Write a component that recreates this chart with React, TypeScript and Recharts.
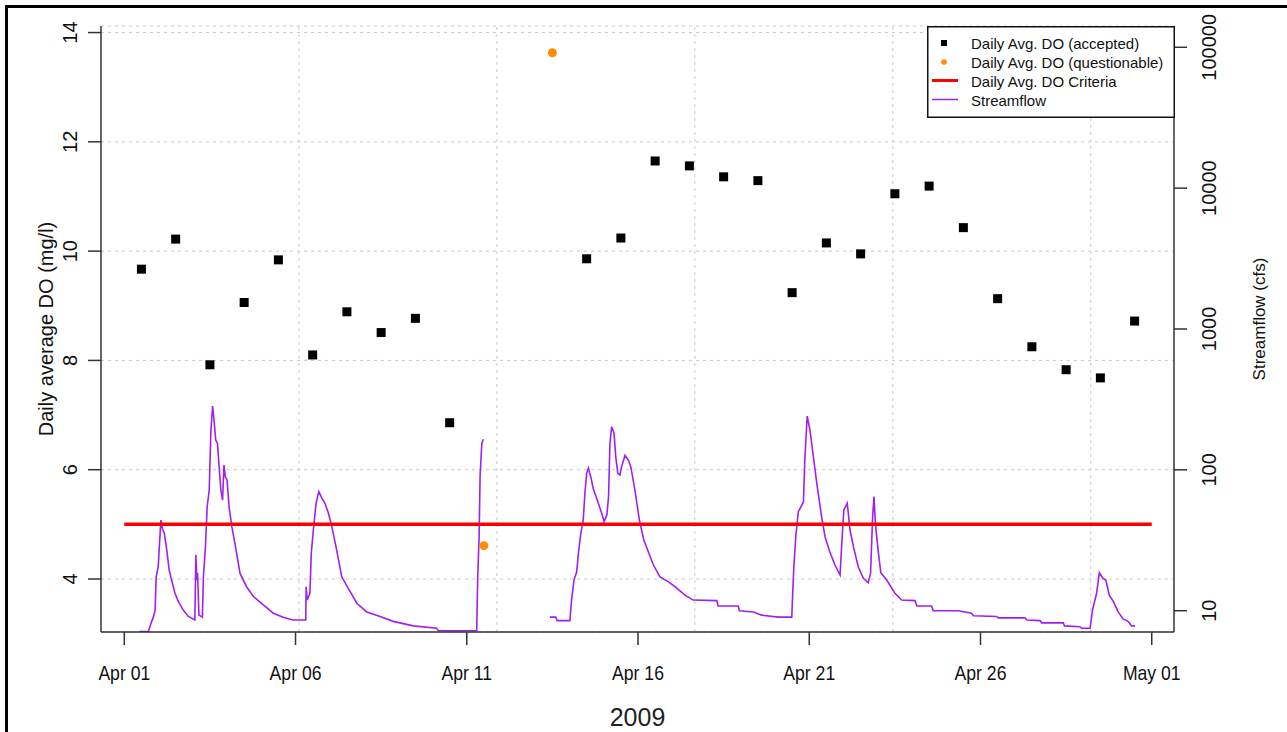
import React from 'react';
import { ComposedChart, Line, Scatter, XAxis, YAxis, CartesianGrid, Legend, ReferenceLine } from 'recharts';

const FONT = '"Liberation Sans", Arial, Helvetica, sans-serif';

// x values are days counted from Apr 01 2009, 00:00
const dateTicks = [0, 5, 10, 15, 20, 25, 30];
const dateLabels = ['Apr 01', 'Apr 06', 'Apr 11', 'Apr 16', 'Apr 21', 'Apr 26', 'May 01'];
const gridDays = [5.1, 10.88, 16.66, 22.44, 28.22];
const doTicks = [4, 6, 8, 10, 12, 14];
const flowTicks = [10, 100, 1000, 10000, 100000];

const acceptedDays = [
  0.5, 1.5, 2.5, 3.5, 4.5, 5.5, 6.5, 7.5, 8.5, 9.5,
  13.5, 14.5, 15.5, 16.5, 17.5, 18.5, 19.5, 20.5, 21.5, 22.5, 23.5, 24.5, 25.5, 26.5, 27.5, 28.5, 29.5,
];
const acceptedDO = [
  9.67, 10.22, 7.92, 9.06, 9.84, 8.1, 8.89, 8.51, 8.77, 6.86,
  9.86, 10.24, 11.65, 11.56, 11.36, 11.29, 9.24, 10.15, 9.95, 11.05, 11.19, 10.43, 9.13, 8.25, 7.83, 7.68, 8.72,
];
const questionableDays = [10.5, 12.5];
const questionableDO = [4.61, 13.63];
const criteriaDays = [0, 30];
const criteriaDO = [5, 5];

// streamflow (day, cfs), two stretches with a gap on Apr 11-13
const flowEarly: [number, number][] = [
  [0.44, 7.1], [0.7, 7.1], [0.75, 7.7], [0.8, 8.4], [0.85, 9.0], [0.9, 10.1], [0.93, 17.3], [0.99, 20.5],
  [1.04, 33.5], [1.07, 44.0], [1.11, 38.5], [1.17, 35.4], [1.24, 27.0], [1.31, 19.5], [1.38, 16.5], [1.48, 13.3],
  [1.58, 11.6], [1.72, 10.1], [1.87, 9.1], [2.06, 8.6], [2.09, 24.9], [2.12, 16.5], [2.14, 18.5], [2.18, 9.3],
  [2.28, 9.0], [2.31, 17.4], [2.37, 28.5], [2.42, 54.7], [2.48, 71.9], [2.53, 192], [2.58, 284], [2.62, 226],
  [2.67, 163], [2.72, 154], [2.77, 105], [2.82, 71.9], [2.87, 61], [2.91, 108], [2.95, 89.4], [3.0, 84.7],
  [3.06, 54.7], [3.14, 39.5], [3.23, 30.1], [3.38, 18.4], [3.57, 14.8], [3.77, 12.6], [4.06, 11.0], [4.35, 9.6],
  [4.64, 9.0], [4.92, 8.6], [5.3, 8.6], [5.31, 14.8], [5.34, 11.9], [5.42, 13.3], [5.46, 25.6], [5.52, 37.4],
  [5.6, 57.9], [5.68, 70.0], [5.76, 63.8], [5.86, 57.9], [5.96, 49.2], [6.06, 39.5], [6.2, 27.0], [6.35, 17.4],
  [6.54, 14.4], [6.79, 11.3], [7.08, 9.8], [7.47, 9.1], [7.85, 8.4], [8.44, 7.8], [9.12, 7.5], [9.17, 7.2],
  [9.66, 7.2], [10.29, 7.2], [10.32, 17.4], [10.36, 33.5], [10.39, 91.9], [10.44, 154], [10.48, 165],
];
const flowLate: [number, number][] = [
  [12.43, 9.0], [12.6, 9.0], [12.64, 8.5], [13.01, 8.5], [13.06, 11.9], [13.13, 16.5], [13.21, 18.9], [13.26, 25.6],
  [13.33, 35.4], [13.4, 44.0], [13.45, 68.2], [13.5, 94.5], [13.55, 103], [13.62, 89.4], [13.69, 74.0], [13.81, 61],
  [13.94, 49.2], [14.01, 42.9], [14.09, 47.8], [14.14, 64.5], [14.18, 154], [14.23, 202], [14.3, 182], [14.35, 124],
  [14.41, 94.5], [14.47, 91.9], [14.52, 105], [14.62, 127], [14.72, 117], [14.79, 105], [14.91, 71.9], [15.04, 44.0],
  [15.17, 31.8], [15.3, 26.2], [15.45, 21.1], [15.64, 17.4], [15.88, 16.1], [16.08, 14.8], [16.37, 12.9], [16.61, 11.9],
  [17.3, 11.8], [17.34, 10.8], [17.93, 10.8], [17.96, 10.0], [18.37, 9.8], [18.61, 9.3], [19.1, 9.0], [19.49, 9.0],
  [19.52, 14.0], [19.55, 20.5], [19.61, 34.5], [19.68, 50.5], [19.76, 54.7], [19.83, 59.4], [19.87, 117], [19.94, 241],
  [20.02, 192], [20.12, 124], [20.22, 80.2], [20.36, 46.5], [20.46, 33.5], [20.6, 26.2], [20.75, 21.1], [20.9, 17.9],
  [20.95, 30.1], [21.01, 51.9], [21.11, 57.9], [21.19, 37.4], [21.29, 28.5], [21.43, 20.5], [21.58, 17.0], [21.72, 15.8],
  [21.79, 18.4], [21.85, 46.5], [21.89, 64.5], [21.93, 41.7], [22.02, 25.6], [22.09, 18.6], [22.26, 16.5], [22.5, 13.3],
  [22.7, 11.9], [23.09, 11.8], [23.14, 10.8], [23.57, 10.8], [23.62, 10.0], [24.35, 10.0], [24.74, 9.6], [24.79, 9.2],
  [25.47, 9.1], [25.52, 8.9], [26.3, 8.9], [26.35, 8.6], [26.74, 8.5], [26.79, 8.2], [27.42, 8.2], [27.45, 7.8],
  [27.9, 7.7], [27.95, 7.5], [28.2, 7.5], [28.27, 10.1], [28.39, 13.3], [28.47, 18.6], [28.57, 17.0], [28.66, 16.5],
  [28.76, 12.9], [28.88, 11.6], [29.02, 9.8], [29.17, 8.7], [29.31, 8.4], [29.41, 7.8], [29.51, 7.8],
];

const accepted = acceptedDays.map((day, i) => ({ day, mgl: acceptedDO[i] }));
const questionable = questionableDays.map((day, i) => ({ day, mgl: questionableDO[i] }));
const criteria = criteriaDays.map((day, i) => ({ day, mgl: criteriaDO[i] }));
const flow1 = flowEarly.map(([day, cfs]) => ({ day, cfs }));
const flow2 = flowLate.map(([day, cfs]) => ({ day, cfs }));

const DateTick = ({ x, y, payload }: any) => (
  <text
    transform={`translate(${x},${y + 33}) scale(0.88,1)`}
    textAnchor="middle"
    fontSize={20}
    fontFamily={FONT}
    fill="#111"
  >
    {dateLabels[dateTicks.indexOf(payload.value)]}
  </text>
);

const SideTick = ({ x, y, payload, shift }: any) => (
  <text
    transform={`translate(${x + shift},${y}) rotate(-90)`}
    textAnchor="middle"
    fontSize={20}
    fontFamily={FONT}
    fill="#111"
  >
    {payload.value}
  </text>
);

const Square = (p: any) => <rect x={p.cx - 4.5} y={p.cy - 4.5} width={9} height={9} fill="#000" />;
const Dot = (p: any) => <circle cx={p.cx} cy={p.cy} r={4.5} fill="#ff8c00" />;

const legendText = { fontSize: 15, fontFamily: FONT, fill: '#111' };

const LegendBox = () => (
  <svg width={248} height={92} style={{ display: 'block' }}>
    <rect x={0.75} y={0.75} width={246.5} height={90.5} fill="#fff" stroke="#111" strokeWidth={1.5} />
    <rect x={14} y={14} width={6} height={6} fill="#000" />
    <text x={44} y={23} {...legendText}>Daily Avg. DO (accepted)</text>
    <circle cx={17} cy={36} r={2.8} fill="#ff8c00" />
    <text x={44} y={42} {...legendText}>Daily Avg. DO (questionable)</text>
    <line x1={5} x2={31} y1={54.5} y2={54.5} stroke="#ff0000" strokeWidth={3} />
    <text x={44} y={61} {...legendText}>Daily Avg. DO Criteria</text>
    <line x1={5} x2={31} y1={73.5} y2={73.5} stroke="#a020f0" strokeWidth={1.5} />
    <text x={44} y={80} {...legendText}>Streamflow</text>
  </svg>
);

const axisStroke = { stroke: '#333', strokeWidth: 1.5 };

export default function App() {
  return (
    <div style={{ position: 'absolute', left: 0, top: 0, width: 1287, height: 732, overflow: 'hidden', background: '#fff' }}>
      <div style={{ position: 'absolute', left: 5, top: 5, width: 1400, height: 800, border: '3px solid #000' }} />
      <div style={{ position: 'absolute', left: 0, top: 0 }}>
        <ComposedChart width={1287} height={732} margin={{ top: 26, right: 0, bottom: 0, left: 0 }}>
          <CartesianGrid yAxisId="do" vertical={false} stroke="#c8c8c8" strokeDasharray="3 4" />
          {gridDays.map((d) => (
            <ReferenceLine key={d} x={d} yAxisId="do" stroke="#c8c8c8" strokeDasharray="3 4" />
          ))}
          <XAxis
            dataKey="day"
            type="number"
            domain={[-0.68, 30.65]}
            allowDataOverflow
            ticks={dateTicks}
            interval={0}
            height={100}
            tickSize={13}
            axisLine={axisStroke}
            tickLine={axisStroke}
            tick={<DateTick />}
            label={(p: any) => (
              <text
                x={p.viewBox.x + p.viewBox.width / 2}
                y={p.viewBox.y + 94}
                textAnchor="middle"
                fontSize={25}
                fontFamily={FONT}
                fill="#222"
              >
                2009
              </text>
            )}
          />
          <XAxis
            xAxisId="top"
            orientation="top"
            type="number"
            domain={[-0.68, 30.65]}
            allowDataOverflow
            height={0}
            tick={false}
            tickLine={false}
            axisLine={axisStroke}
          />
          <YAxis
            yAxisId="do"
            type="number"
            domain={[3.03, 14.12]}
            allowDataOverflow
            ticks={doTicks}
            interval={0}
            width={101}
            tickSize={13}
            axisLine={axisStroke}
            tickLine={axisStroke}
            tick={<SideTick shift={-9} />}
            label={(p: any) => {
              const cx = p.viewBox.x + 53;
              const cy = p.viewBox.y + p.viewBox.height / 2;
              return (
                <text transform={`translate(${cx},${cy}) rotate(-90)`} textAnchor="middle" fontSize={20} fontFamily={FONT} fill="#111">
                  Daily average DO (mg/l)
                </text>
              );
            }}
          />
          <YAxis
            yAxisId="flow"
            orientation="right"
            scale="log"
            type="number"
            domain={[7.06, 141600]}
            allowDataOverflow
            ticks={flowTicks}
            interval={0}
            width={113}
            tickSize={13}
            axisLine={axisStroke}
            tickLine={axisStroke}
            tick={<SideTick shift={27} />}
            label={(p: any) => {
              const cx = p.viewBox.x + 91;
              const cy = p.viewBox.y + p.viewBox.height / 2 - 10;
              return (
                <text transform={`translate(${cx},${cy}) rotate(-90)`} textAnchor="middle" fontSize={17} fontFamily={FONT} fill="#111">
                  Streamflow (cfs)
                </text>
              );
            }}
          />
          <Line
            yAxisId="flow"
            data={flow1}
            dataKey="cfs"
            type="linear"
            stroke="#a020f0"
            strokeWidth={1.6}
            dot={false}
            activeDot={false}
            isAnimationActive={false}
          />
          <Line
            yAxisId="flow"
            data={flow2}
            dataKey="cfs"
            type="linear"
            stroke="#a020f0"
            strokeWidth={1.6}
            dot={false}
            activeDot={false}
            isAnimationActive={false}
          />
          <Line
            yAxisId="do"
            data={criteria}
            dataKey="mgl"
            type="linear"
            stroke="#ff0000"
            strokeWidth={3.5}
            dot={false}
            activeDot={false}
            isAnimationActive={false}
          />
          <Scatter yAxisId="do" data={accepted} dataKey="mgl" shape={Square} isAnimationActive={false} />
          <Scatter yAxisId="do" data={questionable} dataKey="mgl" shape={Dot} isAnimationActive={false} />
          <Legend
            layout="vertical"
            align="center"
            verticalAlign="middle"
            content={LegendBox}
            wrapperStyle={{ left: 927, top: 26, width: 248, height: 92 }}
          />
        </ComposedChart>
      </div>
    </div>
  );
}
